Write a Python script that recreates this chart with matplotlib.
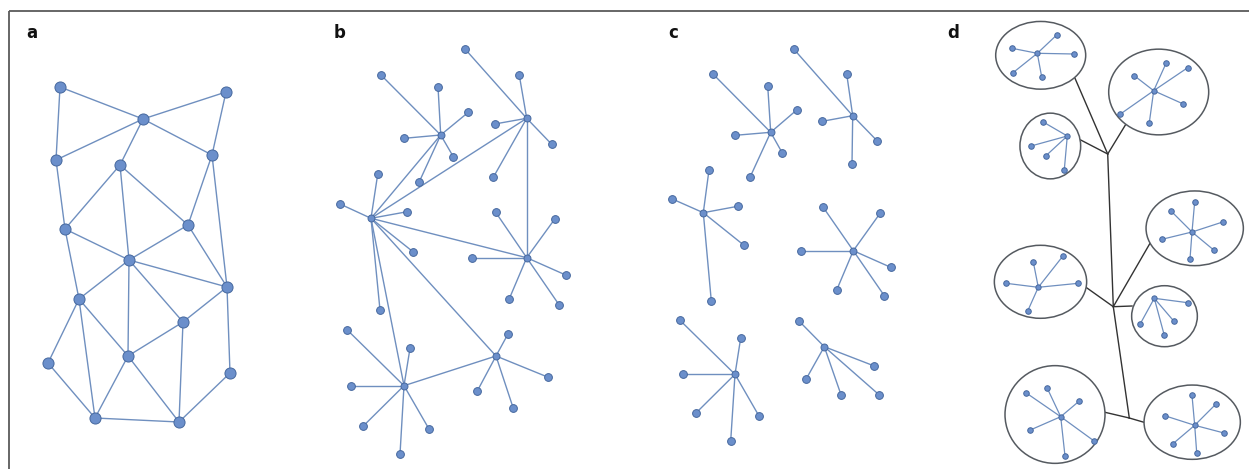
import matplotlib
matplotlib.use("Agg")
import matplotlib.pyplot as plt
from matplotlib.patches import Ellipse

# ---------------- data ----------------
panel_labels = ["a", "b", "c", "d"]
label_x = [32, 340, 673, 953]
label_y = [33, 33, 33, 33]

# Panel a: mesh network
a_x = [60, 226, 143, 56, 212, 120, 65, 188, 129, 227, 79, 183, 128, 48, 230, 95, 179]
a_y = [87, 92, 119, 160, 155, 165, 229, 225, 260, 287, 299, 322, 356, 363, 373, 418, 422]
a_edges = [(0, 2), (0, 3), (2, 1), (2, 3), (2, 5), (2, 4), (1, 4), (3, 6), (5, 6),
           (5, 8), (5, 7), (4, 7), (4, 9), (6, 8), (6, 10), (8, 7), (8, 9), (8, 10),
           (8, 12), (8, 11), (7, 9), (9, 11), (9, 14), (10, 13), (10, 15), (10, 12),
           (11, 12), (11, 16), (12, 15), (12, 16), (13, 15), (15, 16), (14, 16)]

# Panel b: decentralised (hubs linked to hub 2)
b_hub_x = [440.7, 526.7, 371.0, 526.7, 404.0, 496.0]
b_hub_y = [135.0, 118.3, 218.3, 257.7, 385.7, 356.0]
b_leaf_x = [
    [381.3, 438.0, 468.3, 404.3, 453.3, 419.3],
    [465.3, 519.3, 494.7, 551.7, 493.3],
    [377.7, 340.0, 407.3, 413.3, 380.0],
    [495.7, 555.0, 472.3, 565.7, 509.3, 559.0],
    [347.3, 410.0, 350.7, 363.3, 429.0, 400.0],
    [508.0, 548.3, 477.3, 513.3],
]
b_leaf_y = [
    [75.3, 86.7, 112.3, 138.3, 156.7, 181.7],
    [49.3, 75.3, 124.0, 144.3, 177.3],
    [174.3, 204.0, 211.7, 252.0, 310.0],
    [212.3, 218.7, 257.7, 275.0, 298.7, 304.7],
    [330.0, 348.3, 385.7, 426.0, 429.0, 454.3],
    [334.0, 377.3, 391.0, 408.3],
]
b_hub_links = [(2, 0), (2, 1), (2, 3), (2, 4), (2, 5), (1, 3), (4, 5)]

# Panel c: disconnected stars
c_hub_x = [770.7, 852.7, 703.3, 853.3, 735.0, 824.3]
c_hub_y = [132.3, 115.7, 212.7, 250.7, 374.3, 346.7]
c_leaf_x = [
    [713.3, 767.7, 796.7, 735.3, 782.3, 750.0],
    [793.7, 846.7, 822.3, 877.3, 852.0],
    [709.0, 672.3, 737.7, 744.0, 711.3],
    [823.0, 880.3, 801.0, 890.7, 836.7, 884.3],
    [680.0, 740.7, 683.0, 696.0, 759.0, 730.7],
    [798.7, 874.3, 806.0, 841.0, 879.3],
]
c_leaf_y = [
    [74.3, 85.7, 110.0, 135.3, 153.0, 177.3],
    [49.0, 74.0, 121.3, 141.0, 164.3],
    [170.0, 199.0, 206.3, 245.3, 301.0],
    [207.0, 213.0, 250.7, 267.3, 290.0, 295.7],
    [320.3, 338.0, 374.3, 413.0, 416.0, 441.0],
    [320.7, 366.0, 379.3, 394.7, 395.0],
]

# Panel d: hierarchical (clusters in ellipses on a tree)
d_ell_x = [1040.7, 1158.7, 1050.3, 1194.7, 1040.5, 1164.5, 1055.0, 1192.2]
d_ell_y = [55.3, 92.0, 146.0, 228.3, 281.8, 316.2, 414.5, 422.2]
d_ell_w = [90.0, 100.0, 60.7, 97.3, 92.3, 65.7, 100.0, 96.3]
d_ell_h = [67.7, 85.7, 65.7, 74.7, 73.0, 61.0, 97.7, 74.3]
d_hub_x = [1037.3, 1153.7, 1067.3, 1192.0, 1038.3, 1154.3, 1060.7, 1194.7]
d_hub_y = [53.3, 90.7, 136.0, 232.0, 287.3, 298.3, 416.7, 425.3]
d_leaf_x = [
    [1012.0, 1056.7, 1074.3, 1013.0, 1041.7],
    [1134.3, 1166.3, 1187.7, 1183.3, 1120.0, 1149.3],
    [1042.7, 1031.0, 1046.0, 1064.3],
    [1171.3, 1194.7, 1222.7, 1162.0, 1213.7, 1190.0],
    [1033.3, 1062.7, 1006.0, 1078.3, 1027.7],
    [1187.7, 1140.0, 1173.7, 1164.3],
    [1026.3, 1047.3, 1079.3, 1030.3, 1093.7, 1065.0],
    [1192.0, 1215.7, 1164.7, 1224.0, 1173.0, 1196.7],
]
d_leaf_y = [
    [48.3, 35.0, 54.0, 72.7, 77.0],
    [75.7, 62.7, 67.7, 104.0, 114.3, 122.7],
    [121.7, 146.0, 155.7, 169.7],
    [211.3, 201.7, 222.0, 239.3, 250.0, 259.0],
    [262.0, 256.3, 283.3, 283.3, 311.0],
    [302.7, 324.3, 321.0, 335.3],
    [393.0, 388.3, 401.0, 430.0, 440.7, 456.0],
    [395.3, 404.3, 415.7, 433.0, 443.7, 452.7],
]
# tree junctions and the points where branches meet the ellipses
d_junc_x = [1107.7, 1113.3, 1129.3]
d_junc_y = [154.0, 306.7, 418.0]
d_branch_junc = [0, 0, 0, 1, 1, 1, 2, 2]
d_branch_x = [1075.0, 1126.0, 1080.7, 1150.0, 1086.0, 1132.0, 1105.0, 1144.0]
d_branch_y = [78.3, 124.0, 140.0, 243.3, 287.3, 306.0, 412.3, 422.3]

# ---------------- style ----------------
EDGE = "#6f8fbf"
NODE = "#6b8fcb"
NODE_EDGE = "#46689e"
TREE = "#333333"
ELL = "#555a60"

W, H = 1249, 469
fig = plt.figure(figsize=(W / 100, H / 100), dpi=100)
ax = fig.add_axes([0, 0, 1, 1])
ax.set_xlim(0, W)
ax.set_ylim(H, 0)
ax.axis("off")

# frame (top and left)
ax.plot([9.5, W], [11.5, 11.5], color="#5a5a5a", lw=1.3, solid_capstyle="butt")
ax.plot([9.5, 9.5], [11.5, H], color="#5a5a5a", lw=1.3, solid_capstyle="butt")

for t, x, y in zip(panel_labels, label_x, label_y):
    ax.text(x, y, t, fontsize=12, fontweight="bold", ha="center", va="center",
            family="DejaVu Sans", color="#111111")


def node(xs, ys, ms, z=5):
    ax.plot(xs, ys, "o", ms=ms, mfc=NODE, mec=NODE_EDGE, mew=0.7, ls="none", zorder=z)


# panel a
for i, j in a_edges:
    ax.plot([a_x[i], a_x[j]], [a_y[i], a_y[j]], color=EDGE, lw=1.0, zorder=2)
node(a_x, a_y, 8.0)


def stars(hx, hy, lx, ly, ms_leaf, ms_hub, lw):
    for k in range(len(hx)):
        for x, y in zip(lx[k], ly[k]):
            ax.plot([hx[k], x], [hy[k], y], color=EDGE, lw=lw, zorder=2)
        node(lx[k], ly[k], ms_leaf)
    node(hx, hy, ms_hub, z=6)


# panel b
for i, j in b_hub_links:
    ax.plot([b_hub_x[i], b_hub_x[j]], [b_hub_y[i], b_hub_y[j]], color=EDGE, lw=1.0, zorder=2)
stars(b_hub_x, b_hub_y, b_leaf_x, b_leaf_y, 5.6, 5.0, 1.0)

# panel c
stars(c_hub_x, c_hub_y, c_leaf_x, c_leaf_y, 5.6, 5.0, 1.0)

# panel d
ax.plot(d_junc_x, d_junc_y, color=TREE, lw=1.0, zorder=1)
for k, jn in enumerate(d_branch_junc):
    ax.plot([d_junc_x[jn], d_branch_x[k]], [d_junc_y[jn], d_branch_y[k]],
            color=TREE, lw=1.0, zorder=1)
for k in range(len(d_ell_x)):
    ax.add_patch(Ellipse((d_ell_x[k], d_ell_y[k]), d_ell_w[k], d_ell_h[k],
                         facecolor="white", edgecolor=ELL, lw=1.1, zorder=1.5))
stars(d_hub_x, d_hub_y, d_leaf_x, d_leaf_y, 4.0, 3.8, 0.9)

fig.savefig("out.png", dpi=100, facecolor="white")
